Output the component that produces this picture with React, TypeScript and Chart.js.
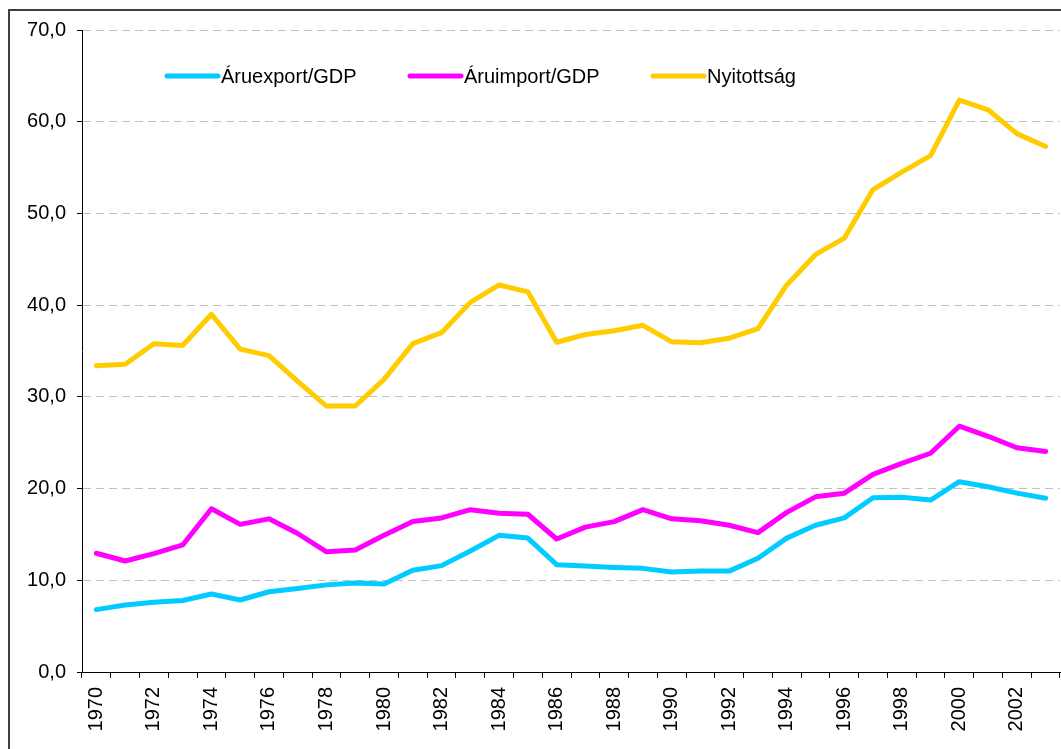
import React, { useEffect, useRef } from "react";
import { Chart, registerables } from "chart.js";

Chart.register(...registerables);

const years: string[] = [
  "1970", "1971", "1972", "1973", "1974", "1975", "1976", "1977", "1978", "1979",
  "1980", "1981", "1982", "1983", "1984", "1985", "1986", "1987", "1988", "1989",
  "1990", "1991", "1992", "1993", "1994", "1995", "1996", "1997", "1998", "1999",
  "2000", "2001", "2002", "2003",
];

const exportGdp: number[] = [
  6.8, 7.3, 7.6, 7.8, 8.5, 7.85, 8.75, 9.1, 9.5, 9.7,
  9.6, 11.1, 11.6, 13.2, 14.9, 14.6, 11.7, 11.55, 11.4, 11.3,
  10.9, 11.0, 11.0, 12.4, 14.6, 16.0, 16.8, 19.0, 19.05, 18.75,
  20.75, 20.2, 19.5, 18.95,
];

const importGdp: number[] = [
  12.95, 12.1, 12.9, 13.85, 17.8, 16.1, 16.7, 15.1, 13.1, 13.3,
  14.9, 16.4, 16.8, 17.7, 17.3, 17.2, 14.5, 15.8, 16.4, 17.7,
  16.7, 16.5, 16.0, 15.2, 17.4, 19.1, 19.5, 21.55, 22.75, 23.85,
  26.8, 25.7, 24.45, 24.05,
];

const openness: number[] = [
  33.4, 33.55, 35.8, 35.6, 39.0, 35.2, 34.5, 31.7, 29.0, 29.0,
  31.9, 35.8, 37.0, 40.3, 42.2, 41.45, 35.95, 36.8, 37.2, 37.8,
  36.0, 35.9, 36.4, 37.45, 42.2, 45.5, 47.3, 52.6, 54.5, 56.3,
  62.35, 61.3, 58.7, 57.3,
];

const seriesLabels: string[] = ["Áruexport/GDP", "Áruimport/GDP", "Nyitottság"];
const seriesColors: string[] = ["#00CCFF", "#FF00FF", "#FFCC00"];
const legendLineX: number[] = [167, 410, 653];

const FONT = "'Liberation Sans', Arial, sans-serif";

const legendPlugin = {
  id: "insideLegend",
  afterDraw(chart: any) {
    const ctx = chart.ctx;
    const y = 76;
    ctx.save();
    chart.data.datasets.forEach((ds: any, i: number) => {
      const x0 = legendLineX[i];
      ctx.beginPath();
      ctx.strokeStyle = ds.borderColor;
      ctx.lineWidth = 5;
      ctx.lineCap = "round";
      ctx.moveTo(x0, y);
      ctx.lineTo(x0 + 51, y);
      ctx.stroke();
      ctx.fillStyle = "#000";
      ctx.font = `20px ${FONT}`;
      ctx.textBaseline = "middle";
      ctx.textAlign = "left";
      ctx.fillText(ds.label, x0 + 54, y + 1);
    });
    ctx.restore();
  },
};

export default function App() {
  const ref = useRef<HTMLCanvasElement | null>(null);

  useEffect(() => {
    if (!ref.current) return;
    const values = [exportGdp, importGdp, openness];
    const chart = new Chart(ref.current, {
      type: "line",
      data: {
        labels: years,
        datasets: values.map((v, i) => ({
          label: seriesLabels[i],
          data: v,
          borderColor: seriesColors[i],
          backgroundColor: seriesColors[i],
          borderWidth: 5,
          pointRadius: 0,
          pointHoverRadius: 0,
          tension: 0,
          borderCapStyle: "round",
          borderJoinStyle: "round",
          fill: false,
        })),
      },
      options: {
        responsive: false,
        animation: false,
        devicePixelRatio: 1,
        layout: { padding: { left: 0, right: 1, top: 30, bottom: 0 } },
        plugins: {
          legend: { display: false },
          tooltip: { enabled: false },
        },
        scales: {
          x: {
            type: "category",
            offset: true,
            grid: {
              offset: true,
              drawOnChartArea: false,
              drawTicks: true,
              tickLength: 6,
              tickColor: "#000",
              color: "#000",
            },
            border: { display: true, color: "#000", width: 1 },
            ticks: {
              autoSkip: false,
              maxRotation: 90,
              minRotation: 90,
              padding: 9,
              color: "#000",
              font: { family: FONT, size: 20 },
              callback: function (this: any, value: any, index: number) {
                return index % 2 === 0 ? years[index] : "";
              },
            },
            afterFit: (scale: any) => {
              scale.height = 77;
              scale.paddingLeft = 0;
              scale.paddingRight = 0;
            },
          },
          y: {
            min: 0,
            max: 70,
            grid: {
              color: "#C0C0C0",
              lineWidth: 1,
              tickLength: 5,
              tickColor: "#000",
              tickBorderDash: [],
            },
            border: { display: true, color: "#000", width: 1, dash: [8, 5] },
            ticks: {
              stepSize: 10,
              padding: 11,
              color: "#000",
              font: { family: FONT, size: 20 },
              callback: (v: any) => Number(v).toFixed(1).replace(".", ","),
            },
            afterFit: (scale: any) => {
              scale.width = 82;
            },
          },
        },
      },
      plugins: [legendPlugin],
    });
    return () => chart.destroy();
  }, []);

  return (
    <div>
      <div
        style={{
          position: "fixed",
          left: 8,
          top: 9,
          width: 1100,
          height: 738,
          borderLeft: "2px solid #404040",
          borderTop: "2px solid #404040",
        }}
      />
      <canvas
        ref={ref}
        width={1061}
        height={749}
        style={{ position: "fixed", left: 0, top: 0, width: 1061, height: 749 }}
      />
    </div>
  );
}
